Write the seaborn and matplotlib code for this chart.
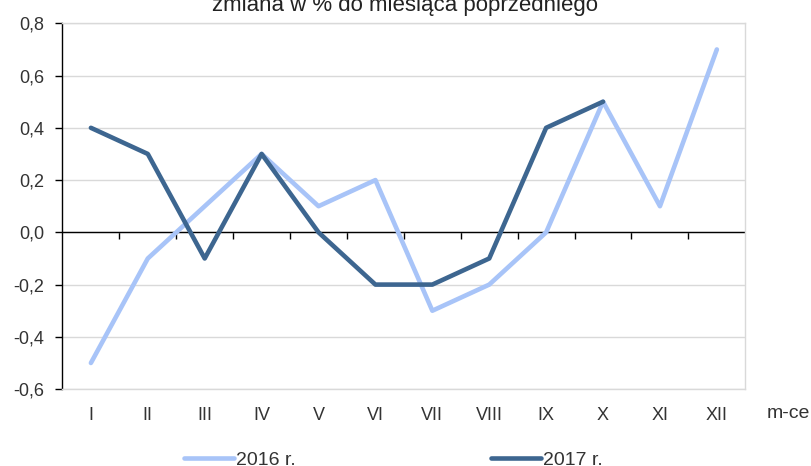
import numpy as np
import pandas as pd
import matplotlib
matplotlib.use('Agg')
import matplotlib.pyplot as plt
import seaborn as sns

# dane: zmiana w % do miesiąca poprzedniego
months = ['I', 'II', 'III', 'IV', 'V', 'VI', 'VII', 'VIII', 'IX', 'X', 'XI', 'XII']
vals_2016 = [-0.5, -0.1, 0.1, 0.3, 0.1, 0.2, -0.3, -0.2, 0.0, 0.5, 0.1, 0.7]
vals_2017 = [0.4, 0.3, -0.1, 0.3, 0.0, -0.2, -0.2, -0.1, 0.4, 0.5]
series_names = ['2016 r.', '2017 r.']
y_ticks = [-0.6, -0.4, -0.2, 0.0, 0.2, 0.4, 0.6, 0.8]
y_labels = ['-0,6', '-0,4', '-0,2', '0,0', '0,2', '0,4', '0,6', '0,8']
title = 'zmiana w % do miesiąca poprzedniego'

df = pd.concat([
    pd.DataFrame({'miesiac': months, 'wartosc': vals_2016, 'rok': series_names[0]}),
    pd.DataFrame({'miesiac': months[:len(vals_2017)], 'wartosc': vals_2017, 'rok': series_names[1]}),
])

sns.set_style('white')
plt.rcParams['font.family'] = ['Liberation Sans', 'DejaVu Sans']

fig = plt.figure(figsize=(8.11, 4.66), dpi=100)
ax = fig.add_axes([0.077, 0.165, 0.842, 0.785])

palette = {series_names[0]: '#A8C4F8', series_names[1]: '#3D6690'}
sns.lineplot(data=df, x='miesiac', y='wartosc', hue='rok', palette=palette,
             linewidth=3.3, sort=False, ax=ax, legend=True)
for ln in ax.lines:
    ln.set_solid_capstyle('round')
    ln.set_solid_joinstyle('round')

ax.set_xlim(-0.5, len(months) - 0.5)
ax.set_ylim(-0.6, 0.8)
ax.set_yticks(y_ticks)
ax.set_yticklabels(y_labels)
ax.yaxis.grid(True, color='#D9D9D9', linewidth=1)
ax.set_axisbelow(True)

for s in ['top', 'right', 'bottom']:
    ax.spines[s].set_color('#D9D9D9')
    ax.spines[s].set_linewidth(1)
ax.spines['left'].set_color('black')
ax.spines['left'].set_linewidth(1)

ax.tick_params(axis='y', left=True, length=5, width=1, color='black',
               labelsize=13, labelcolor='#333333', pad=8)
ax.tick_params(axis='x', bottom=False, length=0, labelsize=13,
               labelcolor='#333333', pad=13)
ax.set_xlabel('')
ax.set_ylabel('')

# oś zero z kreskami między kategoriami
ax.axhline(0, color='black', linewidth=1, zorder=1)
sec = ax.secondary_xaxis(0.6 / 1.4)
sec.spines['bottom'].set_visible(False)
sec.set_xticks(np.arange(0.5, len(months) - 1, 1.0))
sec.set_xticklabels([])
sec.tick_params(direction='out', length=5, width=1, color='black')

fig.text(0.972, 0.113, 'm-ce', ha='center', va='center', fontsize=14, color='#333333')
fig.text(0.5, 0.976, title, ha='center', va='baseline', fontsize=16, color='#222222')

handles, labels = ax.get_legend_handles_labels()
ax.get_legend().remove()
fig.legend(handles, labels, loc='center', bbox_to_anchor=(0.485, 0.012), ncol=2,
           frameon=False, fontsize=14, handlelength=2.6, handletextpad=0.1,
           columnspacing=10, labelcolor='#333333')

fig.savefig('out.png', dpi=100)
